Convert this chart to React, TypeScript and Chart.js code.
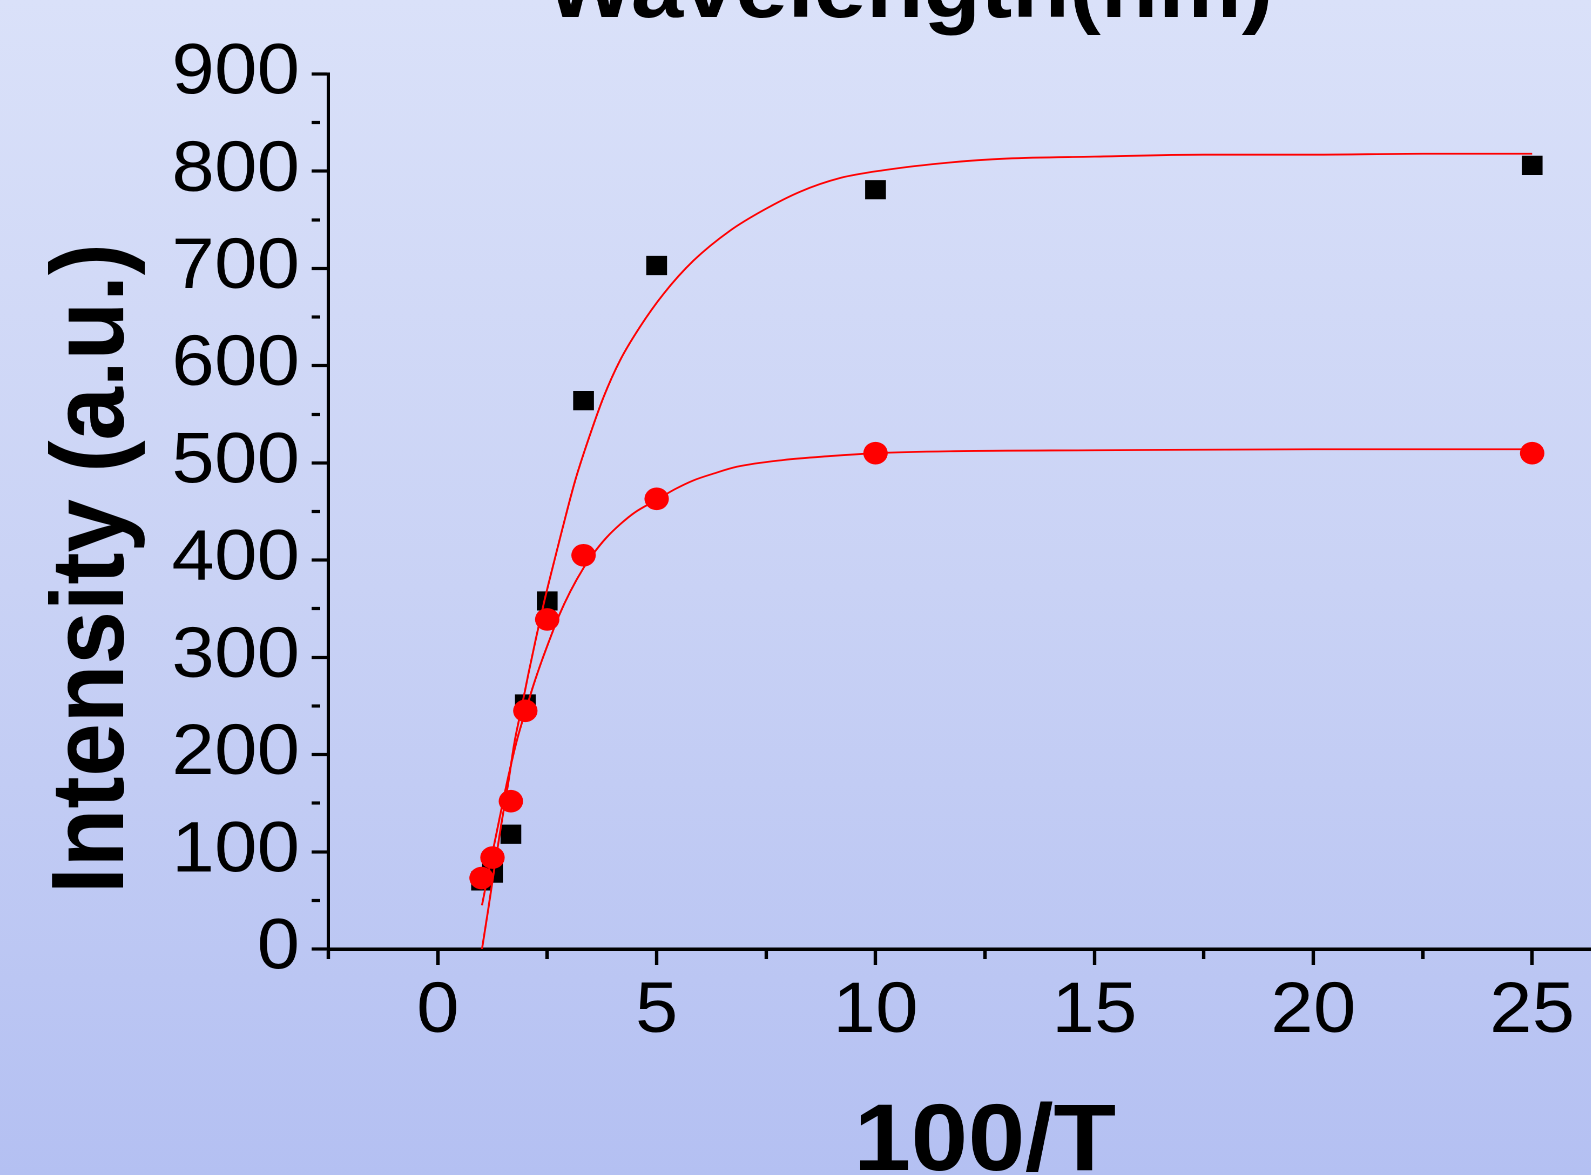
import React, { useEffect, useRef } from 'react';
import { Chart, registerables } from 'chart.js';

Chart.register(...registerables);

// ---- data ----
const invT = [1, 1.25, 1.67, 2, 2.5, 3.33, 5, 10, 25];
const squareIntensity = [70, 78, 118, 252, 358, 564, 703, 781, 806];
const circleIntensity = [73, 94, 152, 245, 339, 405, 463, 510, 510];

// fitted curve through the squares
const fitSquareX = [1.01, 1.15, 1.3, 1.45, 1.6, 1.75, 1.9, 2.07, 2.25, 2.44, 2.61, 2.84, 3.14, 3.41, 3.79, 4.17, 4.62, 5.16, 5.84, 6.68, 7.44, 8.28, 9.19, 10.18, 11.7, 13, 15, 17.5, 20, 22.5, 25];
const fitSquareY = [0, 40, 85, 128, 168, 212, 245, 283, 321, 359, 390, 431, 482, 520, 568, 606, 640, 674, 708, 739, 760, 779, 793, 801, 809, 813, 815, 817, 817, 818, 818];

// fitted curve through the circles
const fitCircleX = [1.01, 1.2, 1.4, 1.6, 1.81, 2.04, 2.19, 2.38, 2.57, 2.76, 3.03, 3.33, 3.56, 3.85, 4.17, 4.5, 5.0, 5.42, 5.84, 6.3, 6.83, 7.9, 8.96, 10, 11.7, 15, 20, 25];
const fitCircleY = [45, 88, 132, 175, 215, 250, 272, 297, 320, 342, 368, 392, 407, 423, 437, 449, 462, 473, 482, 489, 496, 503, 507, 510, 512, 513, 514, 514];

const xMajorTicks = [0, 5, 10, 15, 20, 25];
const xMinorTicks = [-2.5, 2.5, 7.5, 12.5, 17.5, 22.5, 27.5];
const yMajorTicks = [0, 100, 200, 300, 400, 500, 600, 700, 800, 900];
const yMinorTicks = [50, 150, 250, 350, 450, 550, 650, 750, 850];

const topTitle = 'Wavelength(nm)';
const xTitle = '100/T';
const yTitle = 'Intensity (a.u.)';

const FONT = '"Liberation Sans", Arial, Helvetica, sans-serif';
const STRETCH = 1.08;

const toPoints = (xs: number[], ys: number[]) => xs.map((x, i) => ({ x, y: ys[i] }));

const titlesPlugin = {
  id: 'customTitles',
  afterDraw(chart: any) {
    const { ctx, chartArea } = chart;
    ctx.save();
    ctx.fillStyle = '#000';
    ctx.textAlign = 'center';
    ctx.textBaseline = 'alphabetic';
    ctx.font = `bold 87px ${FONT}`;
    ctx.fillText(topTitle, 842, 17);
    ctx.font = `bold 95px ${FONT}`;
    ctx.fillText(xTitle, (chartArea.left + chartArea.right) / 2, 1170);
    ctx.translate(114, 568.5);
    ctx.rotate(-Math.PI / 2);
    ctx.font = `bold 96px ${FONT}`;
    ctx.fillText(yTitle, 0, 0);
    ctx.restore();
  },
};

export default function App() {
  const canvasRef = useRef<HTMLCanvasElement | null>(null);

  useEffect(() => {
    const canvas = canvasRef.current;
    if (!canvas) return;
    const xAll = [...xMajorTicks, ...xMinorTicks].sort((a, b) => a - b);
    const yAll = [...yMajorTicks, ...yMinorTicks].sort((a, b) => a - b);

    const chart = new Chart(canvas, {
      type: 'scatter',
      data: {
        datasets: [
          {
            label: 'circles',
            data: toPoints(invT, circleIntensity),
            pointStyle: 'circle',
            pointRadius: 11.3,
            pointBorderWidth: 0,
            backgroundColor: '#ff0000',
            borderColor: '#ff0000',
            showLine: false,
          },
          {
            label: 'fit squares',
            data: toPoints(fitSquareX, fitSquareY),
            showLine: true,
            pointRadius: 0,
            borderColor: '#ff0000',
            borderWidth: 1.8,
            cubicInterpolationMode: 'monotone',
          },
          {
            label: 'fit circles',
            data: toPoints(fitCircleX, fitCircleY),
            showLine: true,
            pointRadius: 0,
            borderColor: '#ff0000',
            borderWidth: 1.8,
            cubicInterpolationMode: 'monotone',
          },
          {
            label: 'squares',
            data: toPoints(invT, squareIntensity),
            pointStyle: 'rect',
            pointRadius: 13.6,
            pointBorderWidth: 0,
            backgroundColor: '#000000',
            borderColor: '#000000',
            showLine: false,
          },
        ] as any,
      },
      options: {
        animation: false,
        responsive: false,
        maintainAspectRatio: false,
        devicePixelRatio: 2,
        events: [],
        layout: { padding: { left: 0, top: 74, right: 20, bottom: 0 } },
        plugins: {
          legend: { display: false },
          tooltip: { enabled: false },
          title: { display: false },
        },
        scales: {
          x: {
            type: 'linear',
            position: 'bottom',
            min: -2.5,
            max: 27.5,
            afterBuildTicks: (scale: any) => {
              scale.ticks = xAll.map((v) => ({ value: v }));
            },
            afterFit: (scale: any) => {
              scale.height = 226;
            },
            ticks: {
              autoSkip: false,
              maxRotation: 0,
              minRotation: 0,
              padding: 5,
              color: '#000',
              font: { family: FONT, size: 71 },
              callback: (v: any) => (xMajorTicks.includes(Number(v)) ? String(v) : ''),
            },
            grid: {
              display: true,
              drawOnChartArea: false,
              drawTicks: true,
              tickLength: 16,
              tickWidth: 3.2,
              tickColor: '#000',
              tickBorderDash: (ctx: any) =>
                ctx.tick && xMajorTicks.includes(ctx.tick.value) ? [] : [8, 200],
            },
            border: { display: true, color: '#000', width: 3.5 },
          },
          y: {
            type: 'linear',
            position: 'left',
            min: 0,
            max: 900,
            afterBuildTicks: (scale: any) => {
              scale.ticks = yAll.map((v) => ({ value: v }));
            },
            afterFit: (scale: any) => {
              scale.width = 304;
            },
            ticks: {
              autoSkip: false,
              padding: 11,
              color: '#000',
              font: { family: FONT, size: 71 },
              callback: (v: any) => (yMajorTicks.includes(Number(v)) ? String(v) : ''),
            },
            grid: {
              display: true,
              drawOnChartArea: false,
              drawTicks: true,
              tickLength: 15.5,
              tickWidth: 3.2,
              tickColor: '#000',
              tickBorderDash: (ctx: any) =>
                ctx.tick && yMajorTicks.includes(ctx.tick.value) ? [] : [8, 200],
            },
            border: { display: true, color: '#000', width: 3 },
          },
        },
      } as any,
      plugins: [titlesPlugin],
    });

    return () => {
      chart.destroy();
    };
  }, []);

  return (
    <div
      style={{
        position: 'fixed',
        left: 0,
        top: 0,
        width: 1591,
        height: 1175,
        overflow: 'hidden',
        background: 'linear-gradient(to bottom, #dae1f9 0%, #c9d2f5 50%, #b4c0f2 100%)',
      }}
    >
      <canvas
        ref={canvasRef}
        width={1540}
        height={1175}
        style={{
          display: 'block',
          width: 1540,
          height: 1175,
          transform: `scaleX(${STRETCH})`,
          transformOrigin: '0 0',
        }}
      />
    </div>
  );
}
